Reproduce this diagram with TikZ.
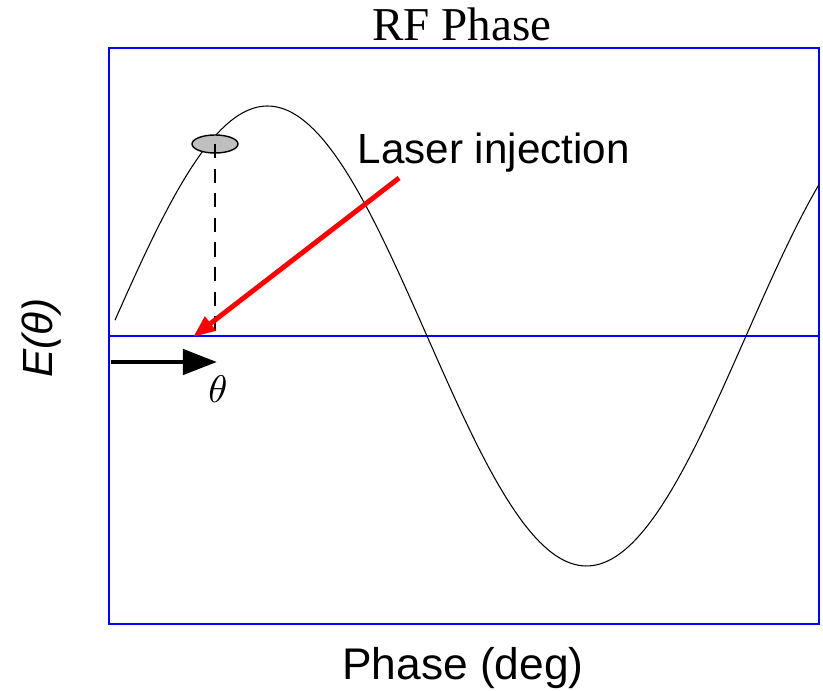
\documentclass[tikz,border=0pt]{standalone}
\usepackage{fontspec}
\setmainfont{Liberation Serif}
\setsansfont{Liberation Sans}
\usetikzlibrary{arrows.meta, shapes.geometric, positioning}

\begin{document}
\begin{tikzpicture}[
  x=0.01cm, y=-0.01cm,
  frame/.style={draw=blue, line width=0.75pt},
  wave/.style={draw=black, line width=0.3pt},
  bunch/.style={ellipse, draw, line width=0.4pt, fill=gray!50, minimum width=0.46cm, minimum height=0.18cm, inner sep=0pt},
  laser/.style={draw=red, line width=1.4pt, -{Triangle[length=6.3pt, width=4.8pt]}},
  phasearrow/.style={draw=black, line width=1.4pt, -{Triangle[length=9.7pt, width=7.1pt]}},
  lbl/.style={font=\sffamily\fontsize{12}{14}\selectfont, inner sep=0pt}
  ]
  \useasboundingbox (0,0) rectangle (823,691);
  % plot box and zero line
  \draw[frame] (109,48) rectangle (819,624);
  \coordinate (L) at (109,336);
  \coordinate (R) at (819,336);
  \draw[frame] (L) -- (R);
  % RF wave
  \draw[wave] plot[domain=115:819, samples=200] (\x, {336-230*sin((\x-108)/638*360)});
  % electron bunch and its phase
  \node[bunch] (bunch) at (215,144) {};
  \coordinate (foot) at (215,336);
  \draw[dashed, dash pattern=on 4pt off 3pt, line width=0.4pt] (bunch.center) -- (foot);
  % laser
  \coordinate (ls) at (399,178);
  \coordinate (lt) at (193,337);
  \draw[laser] (ls) -- (lt);
  \node[lbl, anchor=base west] (lasertxt) at (357,164) {Laser injection};
  % theta arrow
  \coordinate (ta) at (111,362);
  \coordinate (tb) at (217,362);
  \draw[phasearrow] (ta) -- (tb);
  \node[font=\fontsize{11}{13}\selectfont] (theta) at (218,389) {$\theta$};
  % titles
  \node[font=\fontsize{13.4}{16}\selectfont, anchor=base] (title) at (462,41) {RF Phase};
  \node[lbl, font=\sffamily\fontsize{12.6}{15}\selectfont, anchor=base] (xlab) at (463,680) {Phase (deg)};
  \node[lbl, rotate=90] (ylab) at (42,338) {\itshape E(θ)};
\end{tikzpicture}
\end{document}
